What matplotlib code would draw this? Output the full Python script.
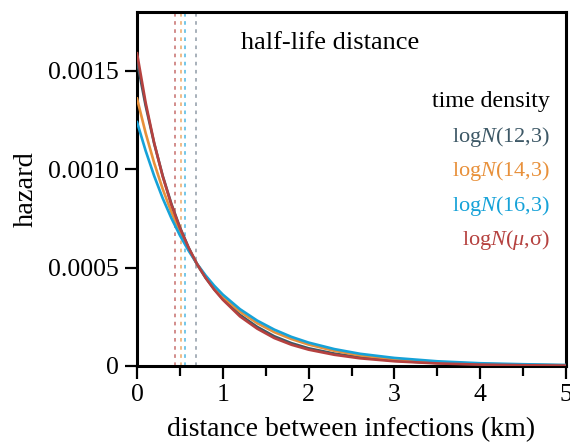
import matplotlib
matplotlib.use('Agg')
import matplotlib.pyplot as plt
from matplotlib.ticker import FuncFormatter, MultipleLocator

plt.rcParams['font.family'] = ['Liberation Serif', 'DejaVu Serif']
plt.rcParams['mathtext.fontset'] = 'custom'
plt.rcParams['mathtext.rm'] = 'Liberation Serif'
plt.rcParams['mathtext.it'] = 'Liberation Serif:italic'

# distance (km) and hazard values
dist = [0, 0.1, 0.2, 0.3, 0.4, 0.5, 0.6, 0.7, 0.8, 0.9, 1.0, 1.2, 1.4, 1.6,
        1.8, 2.0, 2.3, 2.6, 3.0, 3.5, 4.0, 4.5, 5.0]
h_12 = [1550, 1324, 1131, 966, 825, 705, 603, 516, 448, 390, 341, 260, 199,
        151, 116, 90, 63, 44, 27, 15, 8, 5, 3]
h_14 = [1360, 1185, 1032, 899, 783, 682, 594, 518, 454, 399, 352, 276, 218,
        172, 137, 109, 77, 54, 34, 19, 11, 6, 4]
h_16 = [1240, 1095, 966, 852, 752, 664, 587, 519, 460, 408, 363, 289, 231,
        185, 148, 119, 86, 62, 41, 24, 14, 9, 5]
h_mu = [1590, 1340, 1134, 963, 820, 701, 602, 518, 448, 388, 337, 252, 190,
        142, 108, 83, 57, 39, 24, 13, 7, 4, 2]

# half-life distances (km)
half_life = [0.44, 0.51, 0.563, 0.69]
half_cols = ['#b5413f', '#e8903a', '#16a2d8', '#6e7c8c']

labels = [r'log$N$(12,3)', r'log$N$(14,3)', r'log$N$(16,3)', r'log$N$($\mu$,σ)']
colors = ['#3d5866', '#e8903a', '#16a2d8', '#b5413f']

fig = plt.figure(figsize=(5.7, 4.44), dpi=100)
ax = fig.add_axes([0.2404, 0.1757, 0.7526, 0.7973])

for x, c in zip(half_life, half_cols):
    ax.axvline(x, color=c, lw=1.3, ls=(0, (2, 2.5)), alpha=0.65, zorder=1)

for h, c in zip([h_12, h_14, h_16, h_mu], colors):
    ax.plot(dist, [v * 1e-6 for v in h], color=c, lw=1.9, zorder=3)

ax.set_xlim(0, 5)
ax.set_ylim(0, 0.0018)
ax.xaxis.set_major_locator(MultipleLocator(1))
ax.xaxis.set_minor_locator(MultipleLocator(0.5))
ax.yaxis.set_major_locator(MultipleLocator(0.0005))
ax.yaxis.set_major_formatter(FuncFormatter(lambda v, p: '0' if v == 0 else '%.4f' % v))

for s in ax.spines.values():
    s.set_linewidth(2.2)
ax.tick_params(which='major', direction='out', length=9, width=1.6, labelsize=18.5, pad=4)
ax.tick_params(which='minor', direction='out', length=7, width=1.6)

ax.set_xlabel('distance between infections (km)', fontsize=20, labelpad=8)
ax.set_ylabel('hazard', fontsize=20.5, labelpad=7)

ax.text(0.45, 0.913, 'half-life distance', transform=ax.transAxes,
        ha='center', va='center', fontsize=19)
ax.text(0.963, 0.746, 'time density', transform=ax.transAxes,
        ha='right', va='center', fontsize=17.3)
for i, (lab, c) in enumerate(zip(labels, colors)):
    ax.text(0.963, 0.647 - i * 0.097, lab, transform=ax.transAxes,
            ha='right', va='center', fontsize=16, color=c)

fig.savefig('out.png', dpi=100)
